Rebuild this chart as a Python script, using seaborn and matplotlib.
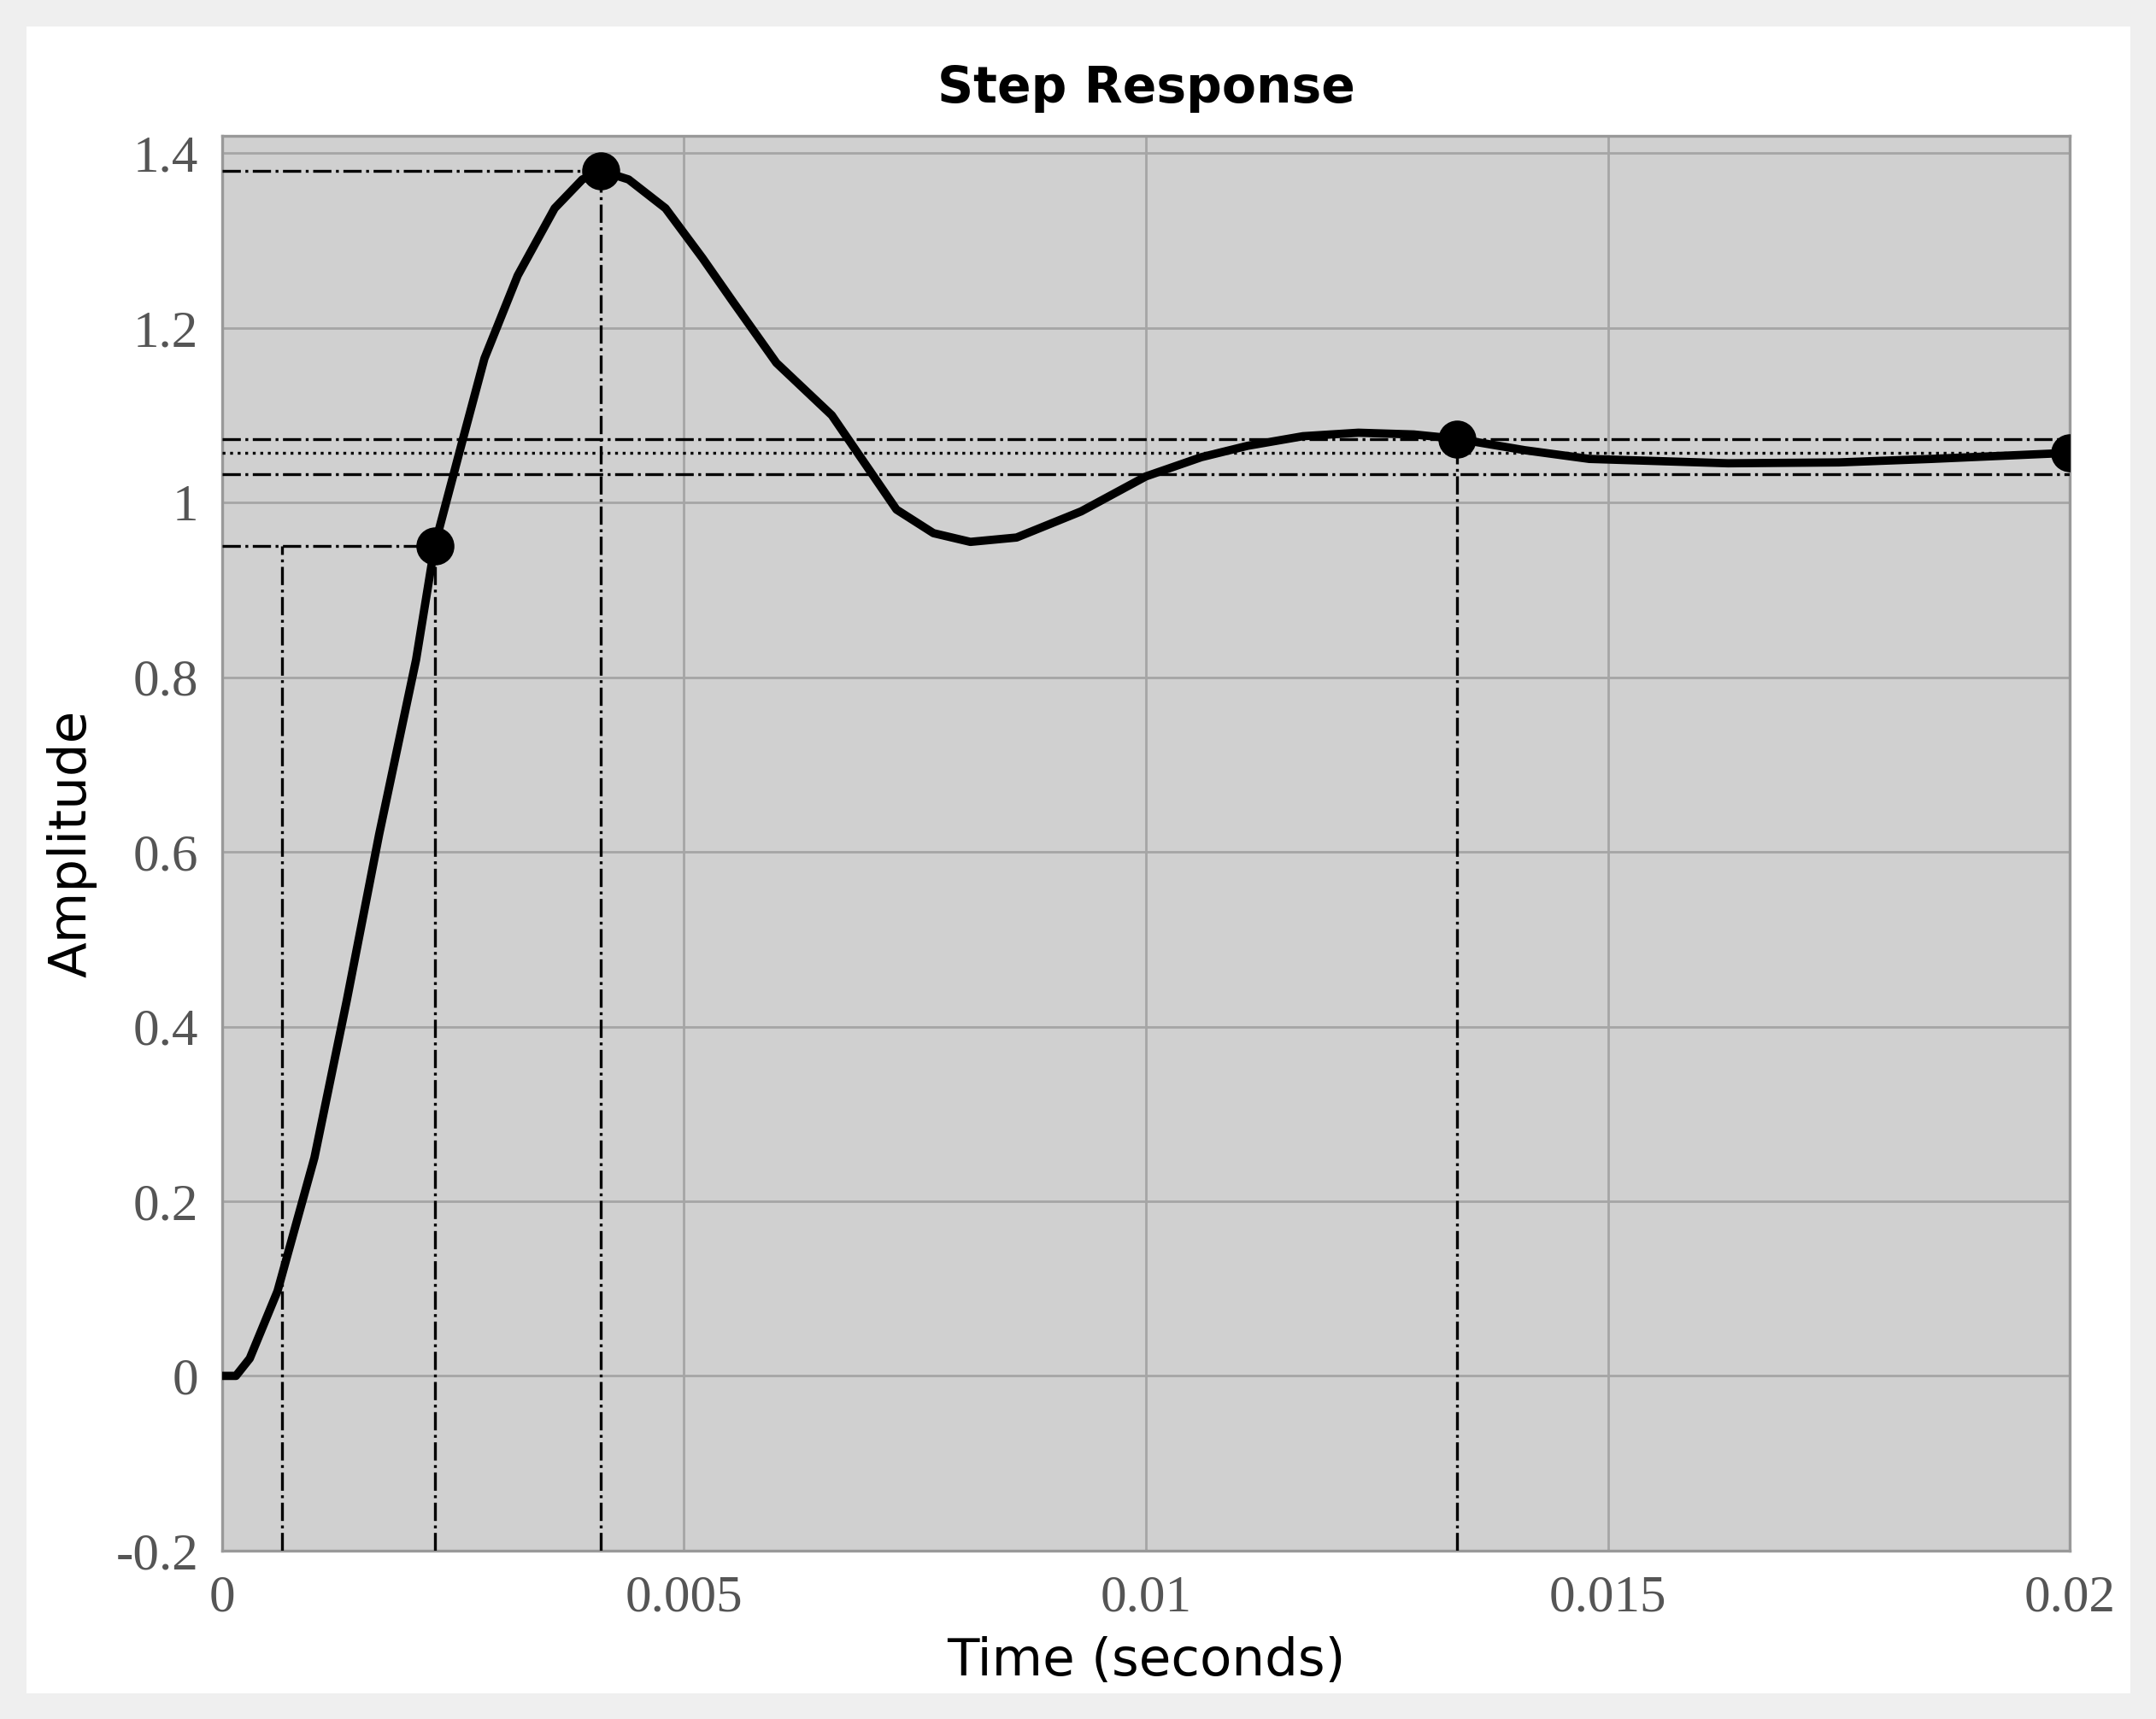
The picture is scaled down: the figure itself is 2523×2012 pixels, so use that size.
import matplotlib
matplotlib.use("Agg")
import matplotlib.pyplot as plt
import seaborn as sns
import pandas as pd
from matplotlib.patches import Rectangle

t = [0, 0.00015, 0.0003, 0.0006, 0.001, 0.00135, 0.0017, 0.0021, 0.0023, 0.0026, 0.00284, 0.0032, 0.0036,
     0.0039, 0.0041, 0.0044, 0.0048, 0.0052, 0.00553, 0.006, 0.0066, 0.0073, 0.0077,
     0.0081, 0.0086, 0.0093, 0.0100, 0.0106, 0.0111, 0.0117, 0.0123, 0.0129, 0.01337, 0.0141, 0.0148,
     0.0163, 0.0175, 0.0185, 0.0200]
amp = [0, 0.0, 0.02, 0.097, 0.25, 0.43, 0.62, 0.82, 0.95, 1.07, 1.165, 1.26, 1.337,
       1.37, 1.38, 1.37, 1.337, 1.28, 1.23, 1.16, 1.10, 0.992, 0.965,
       0.955, 0.96, 0.99, 1.03, 1.052, 1.065, 1.076, 1.08, 1.078, 1.073, 1.06, 1.05,
       1.045, 1.046, 1.05, 1.057]
mark_t = [0.0023, 0.0041, 0.01337, 0.0200]
mark_a = [0.95, 1.38, 1.073, 1.057]
settle_hi, settle_lo, final_val = 1.073, 1.033, 1.057
rise_start_t = 0.00065
xticks = [0, 0.005, 0.01, 0.015, 0.02]
xticklabels = ["0", "0.005", "0.01", "0.015", "0.02"]
yticks = [-0.2, 0, 0.2, 0.4, 0.6, 0.8, 1, 1.2, 1.4]
yticklabels = ["-0.2", "0", "0.2", "0.4", "0.6", "0.8", "1", "1.2", "1.4"]

sns.set_theme(style="whitegrid")
fig = plt.figure(figsize=(12.615, 10.06), dpi=200, facecolor="white")
fig.patches.append(Rectangle((0, 0), 1, 1, transform=fig.transFigure, fill=False,
                             edgecolor="#efefef", linewidth=22, zorder=-1))
ax = fig.add_axes([0.103, 0.098, 0.857, 0.823])
ax.set_facecolor("#d0d0d0")

df = pd.DataFrame({"t": t, "amp": amp})
sns.lineplot(data=df, x="t", y="amp", ax=ax, color="black", linewidth=3.5, zorder=5)
sns.scatterplot(x=mark_t, y=mark_a, ax=ax, color="black", s=220, zorder=6, edgecolor="black")

dd = dict(color="black", linestyle="-.", linewidth=1.2, zorder=4)
ymin = -0.2
ax.plot([0, mark_t[1]], [mark_a[1], mark_a[1]], **dd)
ax.plot([mark_t[1], mark_t[1]], [ymin, mark_a[1]], **dd)
ax.plot([0, mark_t[0]], [mark_a[0], mark_a[0]], **dd)
ax.plot([mark_t[0], mark_t[0]], [ymin, mark_a[0]], **dd)
ax.plot([rise_start_t, rise_start_t], [ymin, mark_a[0]], **dd)
ax.plot([mark_t[2], mark_t[2]], [ymin, mark_a[2]], **dd)
ax.axhline(settle_hi, **dd)
ax.axhline(settle_lo, **dd)
ax.axhline(final_val, color="black", linestyle=":", linewidth=1.2, zorder=4)

ax.set_xlim(0, 0.02)
ax.set_ylim(-0.2, 1.42)
ax.set_xticks(xticks)
ax.set_xticklabels(xticklabels, family="Liberation Serif", fontsize=22, color="#555555")
ax.set_yticks(yticks)
ax.set_yticklabels(yticklabels, family="Liberation Serif", fontsize=22, color="#555555")
ax.grid(True, color="#a5a5a5", linewidth=1.0)
for s in ax.spines.values():
    s.set_color("#999999")
    s.set_linewidth(1.2)
ax.tick_params(axis="both", length=0, pad=10)
ax.set_title("Step Response", fontsize=21, fontweight="bold", color="black", pad=14)
ax.set_xlabel("Time (seconds)", fontsize=22, color="black", labelpad=6)
ax.set_ylabel("Amplitude", fontsize=22, color="black", labelpad=8)

fig.savefig("out.png", dpi=200, facecolor="white")
